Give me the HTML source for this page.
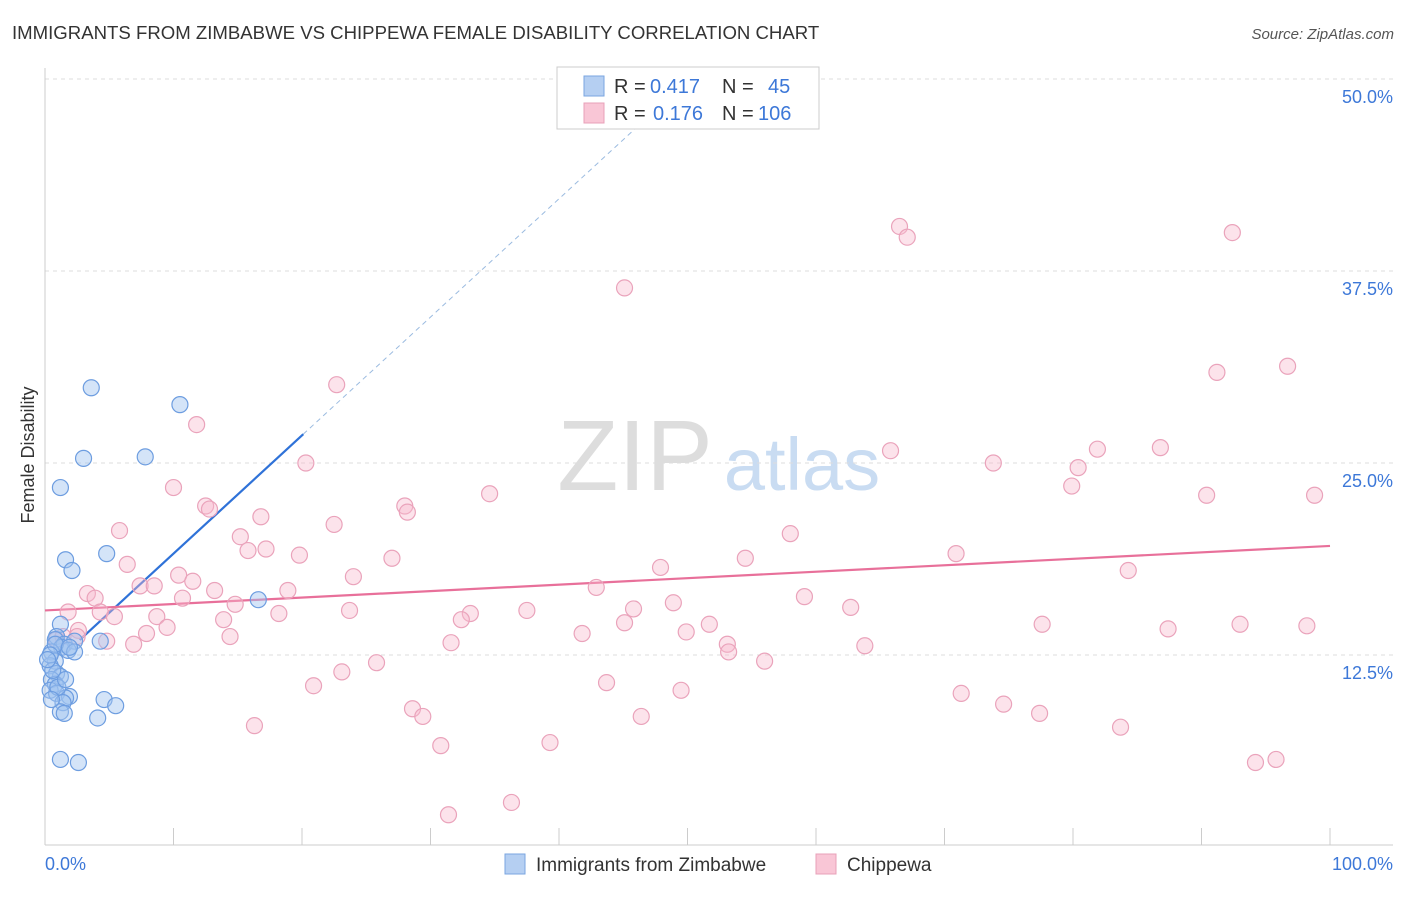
<!DOCTYPE html>
<html><head><meta charset="utf-8"><style>
body{margin:0;background:#fff;font-family:"Liberation Sans",sans-serif}
svg text{font-family:"Liberation Sans",sans-serif}
</style></head><body>
<svg width="1406" height="892" xmlns="http://www.w3.org/2000/svg" id="chart">
<text x="12" y="39" font-size="18.6" fill="#333">IMMIGRANTS FROM ZIMBABWE VS CHIPPEWA FEMALE DISABILITY CORRELATION CHART</text>
<text x="1394" y="39" font-size="15" fill="#555" font-style="italic" text-anchor="end">Source: ZipAtlas.com</text>
<text x="34" y="455" font-size="18" fill="#333" text-anchor="middle" transform="rotate(-90 34 455)">Female Disability</text>
<g>
<text x="635" y="490" font-size="100" fill="#ddd" font-family="Liberation Serif" text-anchor="middle">ZIP</text>
<text x="802" y="490" font-size="74" fill="#c9dcf2" text-anchor="middle">atlas</text>
</g>
<g id="grid"></g><g id="axes"></g><g id="trends"></g><g id="pts"></g>
<g>
<rect x="557" y="67" width="262" height="62" fill="#fff" stroke="#ccc"/>
<rect x="584" y="76" width="20" height="20" fill="#b5cff2" stroke="#7aa6e0"/>
<rect x="584" y="103" width="20" height="20" fill="#f9c6d6" stroke="#e8a0b8"/>
<text x="614" y="93" font-size="20" fill="#333">R =</text>
<text x="650" y="93" font-size="20" fill="#3d78d8">0.417</text>
<text x="722" y="93" font-size="20" fill="#333">N =</text>
<text x="768" y="93" font-size="20" fill="#3d78d8">45</text>
<text x="614" y="120" font-size="20" fill="#333">R =</text>
<text x="653" y="120" font-size="20" fill="#3d78d8">0.176</text>
<text x="722" y="120" font-size="20" fill="#333">N =</text>
<text x="758" y="120" font-size="20" fill="#3d78d8">106</text>
</g>
<g>
<rect x="505" y="854" width="20" height="20" fill="#b5cff2" stroke="#7aa6e0"/>
<text x="536" y="871" font-size="19" fill="#333">Immigrants from Zimbabwe</text>
<rect x="816" y="854" width="20" height="20" fill="#f9c6d6" stroke="#e8a0b8"/>
<text x="847" y="871" font-size="19" fill="#333">Chippewa</text>
</g>
</svg>
<script>
const yTicks=[12.5,25,37.5,50];
const xTickLabels=["0.0%","100.0%"];
const blueX=[3.6,10.5,3.0,7.8,1.2,4.8,1.6,2.1,16.6,1.2,0.9,0.8,1.5,2.3,4.3,1.3,1.8,2.3,0.5,0.8,0.4,0.9,1.2,0.5,0.8,0.4,0.9,1.9,1.6,1.4,4.6,5.5,1.2,1.5,4.1,1.2,2.6,0.8,0.4,0.6,1.0,1.6,0.5,1.9,0.2];
const blueY=[29.9,28.8,25.3,25.4,23.4,19.1,18.7,18.0,16.1,14.5,13.7,13.5,13.2,13.4,13.4,13.0,12.8,12.7,12.7,12.1,11.8,11.3,11.1,10.9,10.6,10.2,10.0,9.8,9.7,9.4,9.6,9.2,8.8,8.7,8.4,5.7,5.5,13.2,12.5,11.5,10.4,10.9,9.6,13.0,12.2];
const pinkX=[66.5,67.1,92.4,45.1,22.7,91.2,96.7,11.8,20.3,65.8,81.9,86.8,73.8,80.4,79.9,34.6,90.4,98.8,10.0,12.5,12.8,28.0,28.2,16.8,22.5,5.8,15.2,58.0,15.8,17.2,19.8,27.0,70.9,54.5,6.4,47.9,10.4,24.0,84.3,11.5,7.4,8.5,3.3,3.9,13.2,18.9,42.9,59.1,10.7,14.8,48.9,62.7,1.8,4.3,5.4,8.7,18.2,23.7,37.5,45.8,33.1,32.4,13.9,51.7,77.6,93.0,98.2,87.4,7.9,9.5,49.9,41.8,45.1,2.6,4.8,6.9,14.4,53.1,53.2,31.6,63.8,25.8,56.0,23.1,20.9,43.7,49.5,71.3,74.6,28.6,29.4,46.4,77.4,16.3,83.7,30.8,39.3,94.2,95.8,36.3,31.4,0.9,1.4,2.5];
const pinkY=[40.4,39.7,40.0,36.4,30.1,30.9,31.3,27.5,25.0,25.8,25.9,26.0,25.0,24.7,23.5,23.0,22.9,22.9,23.4,22.2,22.0,22.2,21.8,21.5,21.0,20.6,20.2,20.4,19.3,19.4,19.0,18.8,19.1,18.8,18.4,18.2,17.7,17.6,18.0,17.3,17.0,17.0,16.5,16.2,16.7,16.7,16.9,16.3,16.2,15.8,15.9,15.6,15.3,15.3,15.0,15.0,15.2,15.4,15.4,15.5,15.2,14.8,14.8,14.5,14.5,14.5,14.4,14.2,13.9,14.3,14.0,13.9,14.6,14.1,13.4,13.2,13.7,13.2,12.7,13.3,13.1,12.0,12.1,11.4,10.5,10.7,10.2,10.0,9.3,9.0,8.5,8.5,8.7,7.9,7.8,6.6,6.8,5.5,5.7,2.9,2.1,13.5,13.7,13.7];
const blueTrend=[11.4,0.77];
const pinkTrend=[15.4,0.042];
const NS="http://www.w3.org/2000/svg";
const X=v=>45+v*12.85, Y=v=>847-v*15.36;
function mk(t,a,p){const e=document.createElementNS(NS,t);for(const k in a)e.setAttribute(k,a[k]);document.getElementById(p).appendChild(e);return e;}
yTicks.forEach(t=>{
 const l=mk('line',{x1:45,x2:1393,y1:Y(t),y2:Y(t),stroke:'#ddd','stroke-dasharray':'4,4'},'grid');
 
 
 const tx=mk('text',{x:1393,y:Y(t)+24,'font-size':18,fill:'#3d78d8','text-anchor':'end'},'grid');
 tx.textContent=t.toFixed(1)+'%';
 
 
});
mk('line',{x1:45,x2:45,y1:68,y2:845,stroke:'#ccc'},'axes');
mk('line',{x1:45,x2:1393,y1:845,y2:845,stroke:'#ccc'},'axes');
for(let i=0;i<=10;i++){const t=mk('line',{x1:X(i*10),x2:X(i*10),y1:828,y2:845,stroke:'#ccc'},'axes');
 
 }
[[0,'start',45],[100,'end',1393]].forEach((d,i)=>{const t=mk('text',{x:d[2],y:870,'font-size':18,fill:'#3d78d8','text-anchor':d[1]},'axes');t.textContent=xTickLabels[i];
 
 });
const bf=x=>blueTrend[0]+blueTrend[1]*x, pf=x=>pinkTrend[0]+pinkTrend[1]*x;
let l=mk('line',{x1:X(20.1),y1:Y(bf(20.1)),x2:X(47.5),y2:Y(bf(47.5)),stroke:'#9bbbe0','stroke-dasharray':'5,4'},'trends');


l=mk('line',{x1:X(2.7),y1:Y(bf(2.7)),x2:X(20.1),y2:Y(bf(20.1)),stroke:'#2f72d8','stroke-width':2.2},'trends');


l=mk('line',{x1:X(0),y1:Y(pf(0)),x2:X(100),y2:Y(pf(100)),stroke:'#e8709a','stroke-width':2.2},'trends');


pinkX.forEach((x,i)=>{const c=mk('circle',{cx:X(x),cy:Y(pinkY[i]),r:8,fill:'rgba(248,185,206,0.4)',stroke:'#eaa3bb','stroke-width':1.2},'pts');
 
 });
blueX.forEach((x,i)=>{const c=mk('circle',{cx:X(x),cy:Y(blueY[i]),r:8,fill:'rgba(160,196,240,0.45)',stroke:'#6d9de0','stroke-width':1.2},'pts');
 
 });
</script>
</body></html>
